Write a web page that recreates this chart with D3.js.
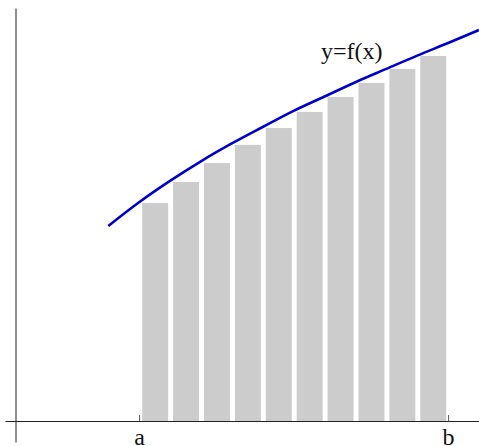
<!DOCTYPE html>
<html>
<head>
<meta charset="utf-8">
<script src="https://cdn.jsdelivr.net/npm/d3@7"></script>
<style>
  body { margin: 0; background: #fff; }
  svg { display: block; }
</style>
</head>
<body>
<div class="chart"></div>
<script>
// left endpoints of the subintervals and the bar heights
const barStarts = [0, 1, 2, 3, 4, 5, 6, 7, 8, 9];
const barHeights = [6.23, 6.83, 7.37, 7.89, 8.37, 8.83, 9.26, 9.66, 10.06, 10.43];

// samples of the curve y = f(x)
const curveX = [-1, 0, 1, 2, 3, 4, 5, 6, 7, 8, 9, 10, 11];
const curveY = [5.57, 6.25, 6.86, 7.42, 7.93, 8.40, 8.86, 9.27, 9.68, 10.06, 10.44, 10.80, 11.17];

const tickValues = [0, 10];
const tickLabels = ["a", "b"];

const width = 479, height = 446;
const serif = "'Liberation Serif', 'Times New Roman', serif";

const xScale = d3.scaleLinear()
    .domain([-4.34, 11.0])
    .range([5, 479]);

const yScale = d3.scaleLinear()
    .domain([-0.6, 11.8])
    .range([442, 8]);

const svg = d3.select(".chart").append("svg")
    .attr("width", width)
    .attr("height", height);

// bars
svg.append("g")
    .attr("fill", "#cccccc")
  .selectAll("rect")
  .data(barStarts)
  .join("rect")
    .attr("x", d => xScale(d + 0.1))
    .attr("width", d => xScale(d + 0.94) - xScale(d + 0.1))
    .attr("y", (d, i) => yScale(barHeights[i]))
    .attr("height", (d, i) => yScale(0) - yScale(barHeights[i]));

// x axis
const xAxis = d3.axisBottom(xScale)
    .tickValues(tickValues)
    .tickFormat((d, i) => tickLabels[i])
    .tickSizeInner(-6)
    .tickSizeOuter(0)
    .tickPadding(7);

svg.append("g")
    .attr("transform", "translate(0," + yScale(0) + ")")
    .call(xAxis)
    .call(g => g.select(".domain").attr("stroke", "#222"))
    .call(g => g.selectAll(".tick line").attr("stroke", "#555"))
    .call(g => g.selectAll(".tick text")
        .attr("fill", "#111")
        .attr("font-family", serif)
        .attr("font-size", 24));

// y axis (bare line)
const yAxis = d3.axisLeft(yScale)
    .tickValues([])
    .tickSizeOuter(0);

svg.append("g")
    .attr("transform", "translate(" + xScale(-4) + ",0)")
    .call(yAxis)
    .call(g => g.select(".domain").attr("stroke", "#222"));

// curve
const line = d3.line()
    .x((d, i) => xScale(curveX[i]))
    .y(d => yScale(d))
    .curve(d3.curveMonotoneX);

svg.append("path")
    .datum(curveY)
    .attr("fill", "none")
    .attr("stroke", "#0000cc")
    .attr("stroke-width", 2.6)
    .attr("d", line);

svg.append("text")
    .attr("x", 321)
    .attr("y", 59)
    .attr("font-family", serif)
    .attr("font-size", 24)
    .attr("fill", "#111")
    .text("y=f(x)");
</script>
</body>
</html>
